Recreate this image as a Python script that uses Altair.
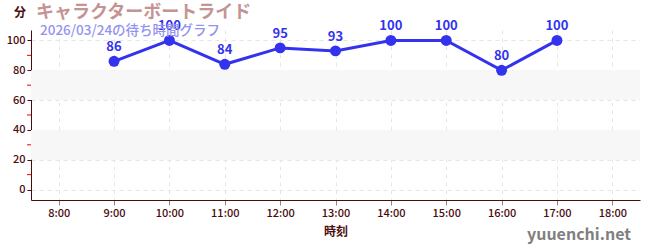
import altair as alt
import pandas as pd

hours = [9, 10, 11, 12, 13, 14, 15, 16, 17]
waits = [86, 100, 84, 95, 93, 100, 100, 80, 100]
x_ticks = [8, 9, 10, 11, 12, 13, 14, 15, 16, 17, 18]
y_ticks = [0, 20, 40, 60, 80, 100]
y_minor = [10, 30, 50, 70, 90]
band_lo = [20, 60]
band_hi = [40, 80]
title_text = "キャラクターボートライド"
subtitle_text = "2026/03/24の待ち時間グラフ"
y_title = "分"
site_text = "yuuenchi.net"

FONT = "Noto Sans CJK JP"
W, H = 609, 170
BLUE = "#3333ee"
DARK = "#4a0c0c"

df = pd.DataFrame({"hour": hours, "wait": waits})
bands = pd.DataFrame({"lo": band_lo, "hi": band_hi})
minor = pd.DataFrame({"v": y_minor})

xs = alt.Scale(domain=[7.5, 18.5], nice=False, zero=False)
ys = alt.Scale(domain=[-7, 107], nice=False, zero=False)

y_axis = alt.Axis(values=y_ticks, grid=True, gridDash=[4, 4], gridColor="#e6e6e6",
                  tickColor=DARK, tickSize=4, domainColor=DARK,
                  labelColor=DARK, labelFontSize=11, labelFont=FONT, labelFontWeight=500,
                  labelOverlap=False, labelBound=False)
x_axis = alt.Axis(values=x_ticks, labelExpr="datum.value + ':00'",
                  grid=True, gridDash=[4, 4], gridColor="#e6e6e6",
                  tickColor="#888888", tickSize=5, domainColor=DARK,
                  labelColor=DARK, labelFontSize=11, labelFont=FONT, labelFontWeight=500,
                  labelOverlap=False,
                  titleColor=DARK, titleFont=FONT, titleFontSize=12,
                  titleFontWeight="bold", titlePadding=8)

band_layer = alt.Chart(bands).mark_rect(color="#f7f7f7").encode(
    x=alt.value(0), x2=alt.value(W),
    y=alt.Y("lo:Q", scale=ys, title=None, axis=y_axis), y2="hi:Q",
)

minor_layer = alt.Chart(minor).mark_rule(color="#ee0000", strokeWidth=1).encode(
    x=alt.value(-4), x2=alt.value(0),
    y=alt.Y("v:Q", scale=ys, title=None, axis=y_axis),
)

base = alt.Chart(df).encode(
    x=alt.X("hour:Q", scale=xs, title="時刻", axis=x_axis),
    y=alt.Y("wait:Q", scale=ys, title=None, axis=y_axis),
)

line = base.mark_line(color=BLUE, strokeWidth=3)
pts = base.mark_circle(color=BLUE, size=120, opacity=1)
labels = base.mark_text(color=BLUE, dy=-14, fontSize=13, fontWeight="bold", font=FONT).encode(
    text="wait:Q")

def deco(text, x, y, size, color, weight="bold", align="left"):
    return alt.Chart(pd.DataFrame({"t": [text]})).mark_text(
        align=align, baseline="middle", color=color, fontSize=size,
        fontWeight=weight, font=FONT
    ).encode(x=alt.value(x), y=alt.value(y), text="t:N")

title_l = deco(title_text, 5, -17, 18, "#c49494")
sub_l = deco(subtitle_text, 9, 1, 13.5, "#9494ee", weight=500)
ytitle_l = deco(y_title, -11, -17, 12, DARK, align="center")
site_l = deco(site_text, 600, 205, 16, "#808080", align="right")

chart = alt.layer(band_layer, minor_layer, line, pts, labels,
                  title_l, sub_l, ytitle_l, site_l).properties(
    width=W, height=H,
    padding={"left": 31, "top": 30, "right": 10, "bottom": 50},
    autosize="none",
).configure_view(stroke=None).configure_axisY(labelOverlap=False)

chart.save("out.html", embed_options={"renderer": "svg", "actions": False})
